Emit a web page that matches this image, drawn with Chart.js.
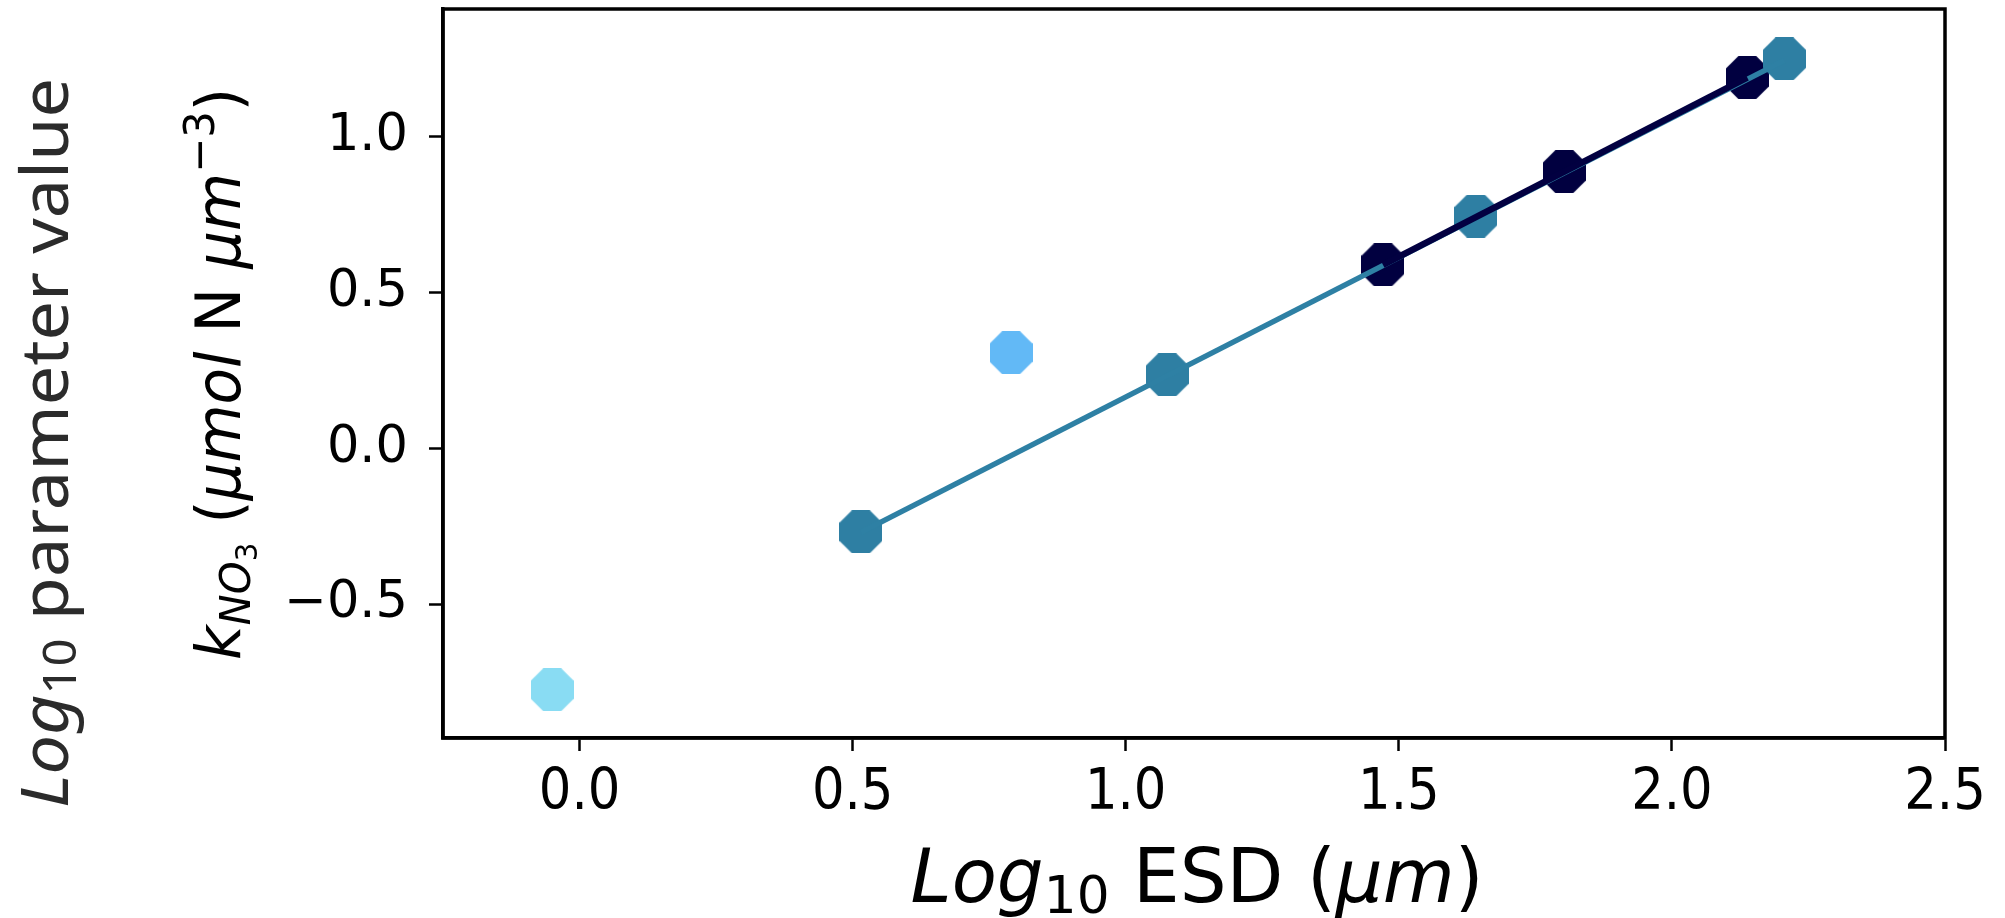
<!DOCTYPE html>
<html>
<head>
<meta charset="utf-8">
<script src="https://cdn.jsdelivr.net/npm/chart.js@4.4.0/dist/chart.umd.min.js"></script>
<style>
  html, body { margin: 0; padding: 0; background: #fff; }
  #wrap { width: 2005px; height: 918px; }
</style>
</head>
<body>
<div id="wrap"><canvas id="chart" width="2005" height="918"></canvas></div>
<script>
// Tick labels
const xTicks = [0, 0.5, 1.0, 1.5, 2.0, 2.5];
const yTicks = [-0.5, 0, 0.5, 1.0];

// Log10 ESD (x) and log10 k_NO3 (y)
const cyanEsd = [-0.05];
const cyanK = [-0.775];
const blueEsd = [0.79];
const blueK = [0.307];
const tealEsd = [0.515, 1.076, 1.641, 2.206];
const tealK = [-0.268, 0.236, 0.745, 1.25];
const navyEsd = [1.471, 1.803, 2.138];
const navyK = [0.589, 0.888, 1.19];

// fitted lines (end points)
const tealFitEsd = [0.515, 2.206];
const tealFitK = [-0.27, 1.245];
const navyFitEsd = [1.471, 2.138];
const navyFitK = [0.589, 1.19];

const FONT = '"DejaVu Sans", sans-serif';
const FONT_COND = '"DejaVu Sans Condensed", "DejaVu Sans", sans-serif';

function toPoints(xs, ys) {
    return xs.map((x, i) => ({ x: x, y: ys[i] }));
}

// matplotlib style octagon marker ('8')
function octagon(color, size) {
    const c = document.createElement('canvas');
    c.width = size;
    c.height = size;
    const g = c.getContext('2d');
    const r = (size / 2) / Math.cos(Math.PI / 8);
    g.beginPath();
    for (let k = 0; k < 8; k++) {
        const a = Math.PI / 8 + k * Math.PI / 4;
        const px = size / 2 + r * Math.cos(a);
        const py = size / 2 + r * Math.sin(a);
        if (k === 0) g.moveTo(px, py); else g.lineTo(px, py);
    }
    g.closePath();
    g.fillStyle = color;
    g.fill();
    return c;
}

function fmt(v) {
    return v.toFixed(1).replace('-', '\u2212');
}

// draws a run of mixed text (italic / sub / superscript), stretched to a given length
function drawRich(ctx, runs, size, family, cx, baseY, angle, targetLen, color) {
    ctx.save();
    const fonts = runs.map(r => (r.it ? 'italic ' : '') + (size * (r.s || 1)) + 'px ' + family);
    let total = 0;
    const widths = runs.map((r, i) => {
        ctx.font = fonts[i];
        const w = ctx.measureText(r.t).width;
        total += w;
        return w;
    });
    ctx.translate(cx, baseY);
    ctx.rotate(angle);
    ctx.scale(targetLen / total, 1);
    ctx.fillStyle = color;
    ctx.textBaseline = 'alphabetic';
    ctx.textAlign = 'left';
    let x = -total / 2;
    runs.forEach((r, i) => {
        ctx.font = fonts[i];
        ctx.fillText(r.t, x, (r.dy || 0) * size);
        x += widths[i];
    });
    ctx.restore();
}

const xTitleRuns = [
    { t: 'Log', it: true }, { t: '10', s: 0.7, dy: 0.15 },
    { t: ' ESD (' }, { t: '\u03bcm', it: true }, { t: ')' }
];
const kTitleRuns = [
    { t: 'k', it: true }, { t: 'NO', it: true, s: 0.7, dy: 0.16 }, { t: '3', s: 0.49, dy: 0.27 },
    { t: ' (' }, { t: '\u03bcmol', it: true }, { t: ' N ' }, { t: '\u03bcm', it: true },
    { t: '\u22123', s: 0.7, dy: -0.42 }, { t: ')' }
];
const leftTitleRuns = [
    { t: 'Log', it: true }, { t: '10', s: 0.7, dy: 0.12 }, { t: ' parameter value' }
];

const frameAndTitles = {
    id: 'frameAndTitles',
    afterDraw(chart) {
        const ctx = chart.ctx;
        const a = chart.chartArea;
        ctx.save();
        ctx.strokeStyle = '#000';
        ctx.lineWidth = 3.5;
        ctx.strokeRect(a.left, a.top, a.right - a.left, a.bottom - a.top);
        ctx.restore();

        drawRich(ctx, xTitleRuns, 74, FONT, 1197, 902, 0, 573, '#000');
        drawRich(ctx, kTitleRuns, 62, FONT, 240, 374, -Math.PI / 2, 572, '#000');
        drawRich(ctx, leftTitleRuns, 66, '"Noto Sans", sans-serif', 68, 443, -Math.PI / 2, 730, '#2b2b2b');
    }
};

const ctx = document.getElementById('chart').getContext('2d');
new Chart(ctx, {
    type: 'scatter',
    data: {
        datasets: [
            {
                label: 'navy fit',
                data: toPoints(navyFitEsd, navyFitK),
                showLine: true,
                borderColor: '#020041',
                borderWidth: 6.5,
                pointRadius: 0,
                order: 0
            },
            {
                label: 'teal fit',
                data: toPoints(tealFitEsd, tealFitK),
                showLine: true,
                borderColor: '#2e80a4',
                borderWidth: 5.5,
                pointRadius: 0,
                order: 1
            },
            {
                label: 'teal',
                data: toPoints(tealEsd, tealK),
                pointStyle: octagon('#2e7fa3', 43),
                pointRadius: 21,
                order: 2
            },
            {
                label: 'navy',
                data: toPoints(navyEsd, navyK),
                pointStyle: octagon('#010040', 43),
                pointRadius: 21,
                order: 3
            },
            {
                label: 'light blue',
                data: toPoints(blueEsd, blueK),
                pointStyle: octagon('#62b9f6', 43),
                pointRadius: 21,
                order: 4
            },
            {
                label: 'cyan',
                data: toPoints(cyanEsd, cyanK),
                pointStyle: octagon('#89dcf3', 43),
                pointRadius: 21,
                order: 5
            }
        ]
    },
    options: {
        responsive: false,
        animation: false,
        events: [],
        layout: {
            autoPadding: false,
            padding: { left: 0, top: 9, right: 60, bottom: 0 }
        },
        plugins: {
            legend: { display: false },
            tooltip: { enabled: false }
        },
        scales: {
            x: {
                type: 'linear',
                min: -0.25,
                max: 2.5,
                afterBuildTicks: s => { s.ticks = xTicks.map(v => ({ value: v })); },
                afterFit: s => {
                    s.height = 180;
                    s.paddingLeft = 0;
                    s.paddingRight = 0;
                },
                ticks: {
                    color: '#000',
                    font: { family: FONT_COND, size: 57 },
                    padding: 9,
                    maxRotation: 0,
                    autoSkip: false,
                    callback: v => fmt(v)
                },
                grid: {
                    drawOnChartArea: false,
                    drawTicks: true,
                    tickLength: 13,
                    tickWidth: 2.5,
                    tickColor: '#000'
                },
                border: { display: true, color: '#000', width: 3.5 }
            },
            y: {
                type: 'linear',
                min: -0.93,
                max: 1.41,
                afterBuildTicks: s => { s.ticks = yTicks.map(v => ({ value: v })); },
                afterFit: s => {
                    s.width = 443;
                    s.paddingTop = 0;
                    s.paddingBottom = 0;
                },
                ticks: {
                    color: '#000',
                    font: { family: FONT, size: 51 },
                    padding: 21,
                    autoSkip: false,
                    callback: v => fmt(v)
                },
                grid: {
                    drawOnChartArea: false,
                    drawTicks: true,
                    tickLength: 14,
                    tickWidth: 2.5,
                    tickColor: '#000'
                },
                border: { display: true, color: '#000', width: 3.5 }
            }
        }
    },
    plugins: [frameAndTitles]
});
</script>
</body>
</html>
